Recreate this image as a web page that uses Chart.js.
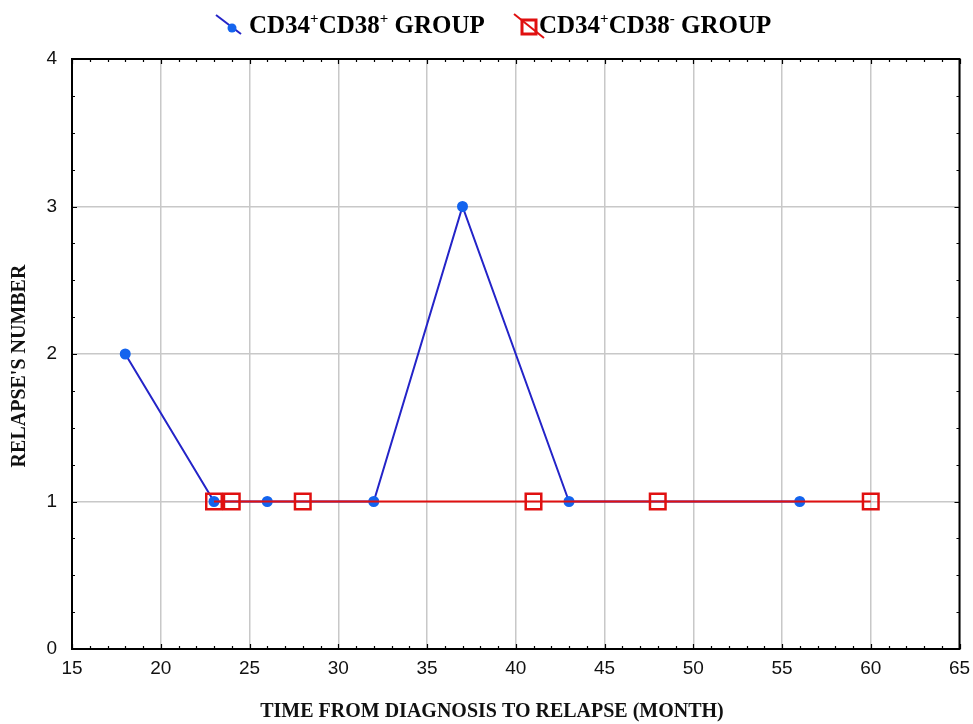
<!DOCTYPE html>
<html>
<head>
<meta charset="utf-8">
<script src="https://cdn.jsdelivr.net/npm/chart.js@4/dist/chart.umd.min.js"></script>
<style>
html,body{margin:0;padding:0;background:#fff;}
#wrap{width:973px;height:724px;position:relative;}
</style>
</head>
<body>
<div id="wrap"><canvas id="c" width="973" height="724"></canvas></div>
<script>
// Data
const groupPosMonths = [18, 23, 26, 32, 37, 43, 56];
const groupPosRelapses = [2, 1, 1, 1, 3, 1, 1];
const groupNegMonths = [23, 24, 28, 41, 48, 60];
const groupNegRelapses = [1, 1, 1, 1, 1, 1];
const xTicks = [15, 20, 25, 30, 35, 40, 45, 50, 55, 60, 65];
const yTicks = [0, 1, 2, 3, 4];
const seriesNames = ['CD34\u207ACD38\u207A GROUP', 'CD34\u207ACD38\u207B GROUP'];
const xTitle = 'TIME FROM DIAGNOSIS TO RELAPSE (MONTH)';
const yTitle = "RELAPSE'S NUMBER";

const toPoints = (xs, ys) => xs.map((x, i) => ({x: x, y: ys[i]}));

const BLUE_LINE = '#2424c8';
const BLUE_PT = '#1464ee';
const RED = '#e01010';
const TITLE_FONT = 'bold 20px "Liberation Serif", "Times New Roman", serif';

// custom legend + frame + minor ticks + axis titles
const decor = {
  id: 'decor',
  afterDraw(chart) {
    const ctx = chart.ctx;
    const a = chart.chartArea;
    const xs = chart.scales.x, ys = chart.scales.y;
    ctx.save();
    // frame
    ctx.strokeStyle = '#000';
    ctx.lineWidth = 2;
    ctx.strokeRect(a.left, a.top, a.right - a.left, a.bottom - a.top);
    // minor ticks (inward)
    ctx.lineWidth = 1.2;
    ctx.beginPath();
    for (let v = xTicks[0]; v <= xTicks[xTicks.length - 1]; v += 1) {
      const px = Math.round(xs.getPixelForValue(v)) + 0.5;
      const len = (v % 5 === 0) ? 5 : 3;
      ctx.moveTo(px, a.bottom); ctx.lineTo(px, a.bottom - len);
      ctx.moveTo(px, a.top); ctx.lineTo(px, a.top + len);
    }
    for (let v = yTicks[0]; v <= yTicks[yTicks.length - 1]; v += 0.25) {
      const py = Math.round(ys.getPixelForValue(v)) + 0.5;
      const len = (Math.abs(v - Math.round(v)) < 1e-6) ? 5 : 3;
      ctx.moveTo(a.left, py); ctx.lineTo(a.left + len, py);
      ctx.moveTo(a.right, py); ctx.lineTo(a.right - len, py);
    }
    ctx.stroke();

    // axis titles
    ctx.fillStyle = '#111';
    ctx.font = TITLE_FONT;
    ctx.textAlign = 'center';
    ctx.textBaseline = 'middle';
    ctx.fillText(xTitle, 492, 712);
    ctx.save();
    ctx.translate(20, 366);
    ctx.rotate(-Math.PI / 2);
    ctx.fillText(yTitle, 0, 0);
    ctx.restore();

    // legend
    const drawLabel = (x, y, parts) => {
      let cx = x;
      ctx.fillStyle = '#000';
      ctx.textBaseline = 'alphabetic';
      ctx.textAlign = 'left';
      parts.forEach(p => {
        if (p.sup) {
          ctx.font = 'bold 15px "Liberation Serif", "Times New Roman", serif';
          ctx.fillText(p.t, cx, y - 10);
        } else {
          ctx.font = 'bold 25px "Liberation Serif", "Times New Roman", serif';
          ctx.fillText(p.t, cx, y);
        }
        cx += ctx.measureText(p.t).width;
      });
    };
    // item 1
    ctx.strokeStyle = BLUE_LINE; ctx.lineWidth = 2;
    ctx.beginPath(); ctx.moveTo(216, 15); ctx.lineTo(241, 34); ctx.stroke();
    ctx.fillStyle = BLUE_PT;
    ctx.beginPath(); ctx.arc(232, 28, 4.5, 0, Math.PI * 2); ctx.fill();
    drawLabel(249, 33, [{t:'CD34'},{t:'+',sup:true},{t:'CD38'},{t:'+',sup:true},{t:' GROUP'}]);
    // item 2
    ctx.strokeStyle = RED; ctx.lineWidth = 2;
    ctx.beginPath(); ctx.moveTo(514, 14); ctx.lineTo(544, 38); ctx.stroke();
    ctx.lineWidth = 3;
    ctx.strokeRect(522, 20, 14, 14);
    drawLabel(539, 33, [{t:'CD34'},{t:'+',sup:true},{t:'CD38'},{t:'-',sup:true},{t:' GROUP'}]);
    ctx.restore();
  }
};

const chart = new Chart(document.getElementById('c'), {
  type: 'scatter',
  data: {
    datasets: [
      {
        label: seriesNames[0],
        data: toPoints(groupPosMonths, groupPosRelapses),
        showLine: true,
        borderColor: BLUE_LINE,
        borderWidth: 2,
        pointBackgroundColor: BLUE_PT,
        pointBorderColor: BLUE_PT,
        pointRadius: 4.5,
        pointStyle: 'circle',
        tension: 0,
        order: 2
      },
      {
        label: seriesNames[1],
        data: toPoints(groupNegMonths, groupNegRelapses),
        showLine: true,
        borderColor: RED,
        borderWidth: 2,
        pointBackgroundColor: 'rgba(0,0,0,0)',
        pointBorderColor: RED,
        pointBorderWidth: 2.5,
        pointRadius: 11,
        pointStyle: 'rect',
        tension: 0,
        order: 1
      }
    ]
  },
  options: {
    responsive: false,
    animation: false,
    devicePixelRatio: 1,
    layout: { padding: { top: 59, right: 12, left: 0, bottom: 0 } },
    plugins: {
      legend: { display: false },
      tooltip: { enabled: false }
    },
    scales: {
      x: {
        type: 'linear',
        min: 15, max: 65,
        afterBuildTicks: s => { s.ticks = xTicks.map(v => ({value: v})); },
        afterFit: s => { s.height = 75; s.paddingRight = 0; s.paddingLeft = 0; },
        grid: { color: '#c8c8c8', lineWidth: 1.5, drawTicks: false },
        border: { display: false },
        ticks: {
          color: '#111',
          padding: 8,
          maxRotation: 0,
          font: { family: '"Liberation Sans", Arial, sans-serif', size: 19 }
        },
        title: { display: false }
      },
      y: {
        type: 'linear',
        min: 0, max: 4,
        afterBuildTicks: s => { s.ticks = yTicks.map(v => ({value: v})); },
        afterFit: s => { s.width = 72; s.paddingTop = 0; s.paddingBottom = 0; },
        grid: { color: '#c8c8c8', lineWidth: 1.5, drawTicks: false },
        border: { display: false },
        ticks: {
          color: '#111',
          padding: 15,
          font: { family: '"Liberation Sans", Arial, sans-serif', size: 19 }
        },
        title: { display: false }
      }
    }
  },
  plugins: [decor]
});
</script>
</body>
</html>
